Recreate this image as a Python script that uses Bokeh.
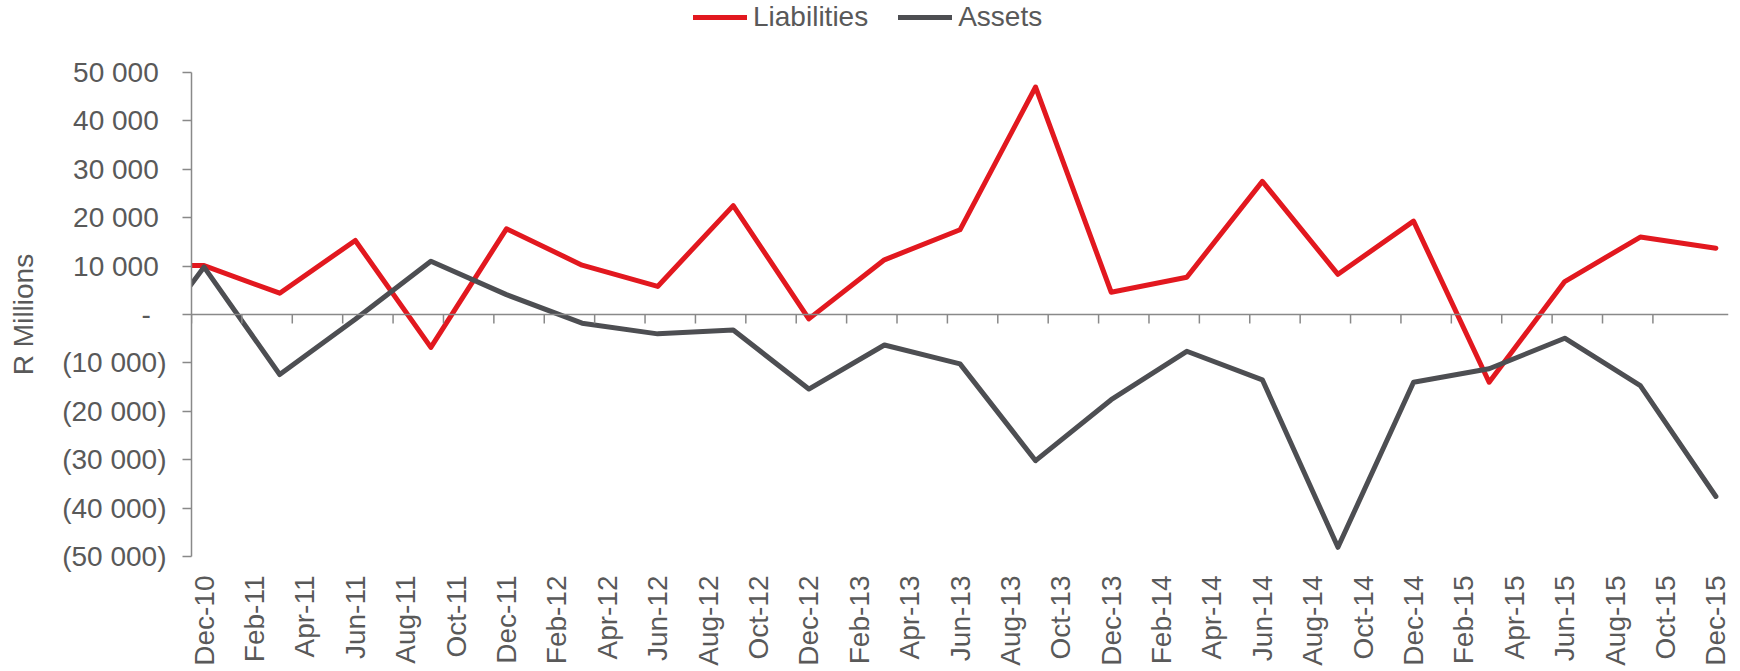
import math
from bokeh.plotting import figure
from bokeh.layouts import column
from bokeh.models import FixedTicker, Span, Legend, LegendItem, ColumnDataSource, Range1d
from bokeh.embed import file_html
from bokeh.resources import INLINE

# ---- data (R millions, quarterly) ----
quarters = ["Sep-10", "Dec-10", "Mar-11", "Jun-11", "Sep-11", "Dec-11", "Mar-12", "Jun-12",
            "Sep-12", "Dec-12", "Mar-13", "Jun-13", "Sep-13", "Dec-13", "Mar-14", "Jun-14",
            "Sep-14", "Dec-14", "Mar-15", "Jun-15", "Sep-15", "Dec-15"]
liabilities = [10100, 10100, 4400, 15300, -6800, 17700, 10200, 5800, 22500, -900, 11300, 17500,
               47000, 4600, 7700, 27500, 8300, 19300, -14000, 6800, 16000, 13700]
assets = [-11200, 9800, -12400, -1000, 11000, 4100, -1800, -4000, -3200, -15400, -6300, -10200,
          -30200, -17600, -7600, -13500, -48100, -14000, -11200, -4900, -14700, -37600]

x_labels = ["Dec-10", "Feb-11", "Apr-11", "Jun-11", "Aug-11", "Oct-11", "Dec-11", "Feb-12",
            "Apr-12", "Jun-12", "Aug-12", "Oct-12", "Dec-12", "Feb-13", "Apr-13", "Jun-13",
            "Aug-13", "Oct-13", "Dec-13", "Feb-14", "Apr-14", "Jun-14", "Aug-14", "Oct-14",
            "Dec-14", "Feb-15", "Apr-15", "Jun-15", "Aug-15", "Oct-15", "Dec-15"]
y_ticks = [50000, 40000, 30000, 20000, 10000, 0, -10000, -20000, -30000, -40000, -50000]
y_labels = ["50 000\u00a0", "40 000\u00a0", "30 000\u00a0", "20 000\u00a0", "10 000\u00a0", "-\u00a0\u00a0",
            "(10 000)", "(20 000)", "(30 000)", "(40 000)", "(50 000)"]
series_names = ["Liabilities", "Assets"]

MONTHS = {"Jan": 1, "Feb": 2, "Mar": 3, "Apr": 4, "May": 5, "Jun": 6, "Jul": 7, "Aug": 8,
          "Sep": 9, "Oct": 10, "Nov": 11, "Dec": 12}


def month_index(lbl):
    m, y = lbl.split("-")
    return (int(y) - 10) * 12 + MONTHS[m] - 12   # Dec-10 -> 0


qx = [month_index(q) for q in quarters]
lx = [month_index(l) for l in x_labels]

RED = "#E2181F"
GREY = "#4D4E52"
AXIS = "#898989"
TXT = "#595959"
FONT = "Liberation Sans"
FS = "28px"
W = 1732
FRAME_H = 484

# ---------- main chart ----------
p = figure(width=W, height=615, output_backend="svg", toolbar_location=None,
           x_range=Range1d(lx[0] - 0.5, lx[-1] + 0.5),
           y_range=Range1d(y_ticks[-1], y_ticks[0]))
p.min_border_left = 191
p.min_border_right = 4
p.min_border_top = 16
p.min_border_bottom = 115
p.outline_line_color = None
p.xgrid.visible = False
p.ygrid.visible = False
p.background_fill_color = "white"
p.border_fill_color = "white"

src = ColumnDataSource(dict(x=qx, liab=liabilities, assets=assets))
p.line("x", "liab", source=src, line_color=RED, line_width=5, line_join="round", line_cap="round")
p.line("x", "assets", source=src, line_color=GREY, line_width=5, line_join="round", line_cap="round")

# zero line with tick marks (boundaries between 2-month blocks)
p.add_layout(Span(location=0, dimension="width", line_color=AXIS, line_width=1.5))
tick_x = [v - 0.5 for v in lx[:-1]]
tick_len = (y_ticks[0] - y_ticks[-1]) / FRAME_H * 9
p.segment(x0=tick_x, y0=[0] * len(tick_x), x1=tick_x, y1=[-tick_len] * len(tick_x),
          line_color=AXIS, line_width=1.5)

# y axis
ya = p.yaxis[0]
ya.ticker = FixedTicker(ticks=y_ticks)
ya.major_label_overrides = {t: s for t, s in zip(y_ticks, y_labels)}
ya.axis_line_color = AXIS
ya.axis_line_width = 1.5
ya.major_tick_line_color = AXIS
ya.major_tick_line_width = 1.5
ya.major_tick_out = 9
ya.major_tick_in = 0
ya.minor_tick_line_color = None
ya.major_label_text_font = FONT
ya.major_label_text_font_size = FS
ya.major_label_text_color = TXT
ya.major_label_standoff = 16
ya.axis_label = "R Millions"
ya.axis_label_text_font = FONT
ya.axis_label_text_font_size = FS
ya.axis_label_text_font_style = "normal"
ya.axis_label_text_color = TXT
ya.axis_label_standoff = 20

# x axis (labels only)
xa = p.xaxis[0]
xa.ticker = FixedTicker(ticks=lx)
xa.major_label_overrides = {t: s for t, s in zip(lx, x_labels)}
xa.major_label_orientation = math.pi / 2
xa.axis_line_color = None
xa.major_tick_line_color = None
xa.minor_tick_line_color = None
xa.major_tick_out = 0
xa.major_label_text_font = FONT
xa.major_label_text_font_size = FS
xa.major_label_text_color = TXT
xa.major_label_standoff = 19

# ---------- legend strip ----------
lg = figure(width=W, height=56, output_backend="svg", toolbar_location=None,
            x_axis_type=None, y_axis_type=None, x_range=Range1d(0, 1), y_range=Range1d(0, 1))
lg.min_border = 0
lg.outline_line_color = None
lg.xgrid.visible = False
lg.ygrid.visible = False
# key samples kept outside the visible range; only their legend swatches show
key = ColumnDataSource(dict(x=[-5, -4], y=[-5, -5]))
d_l = lg.line("x", "y", source=key, line_color=RED, line_width=5, line_cap="round")
d_a = lg.line("x", "y", source=key, line_color=GREY, line_width=5, line_cap="round")

legend = Legend(items=[LegendItem(label=series_names[0], renderers=[d_l]),
                       LegendItem(label=series_names[1], renderers=[d_a])],
                orientation="horizontal", location=(502, 23))
legend.border_line_color = None
legend.background_fill_alpha = 0
legend.padding = 0
legend.margin = 0
legend.spacing = 30
legend.glyph_width = 54
legend.glyph_height = 28
legend.label_standoff = 6
legend.label_text_font = FONT
legend.label_text_font_size = FS
legend.label_text_color = TXT
lg.add_layout(legend, "center")

layout = column(lg, p, spacing=0)
open("out.html", "w").write(file_html(layout, INLINE))
